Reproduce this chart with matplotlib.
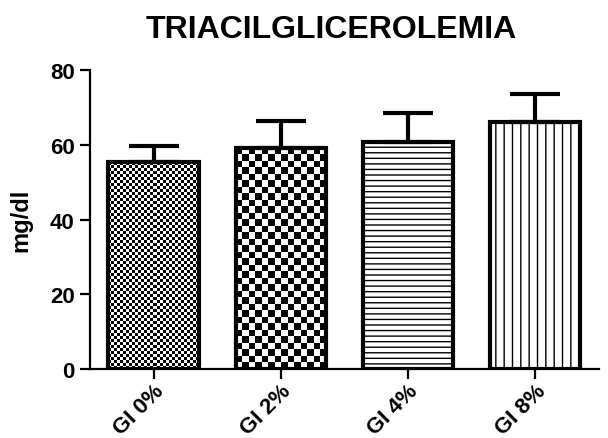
import matplotlib
matplotlib.use('Agg')
import matplotlib.pyplot as plt
import numpy as np

plt.rcParams['font.family'] = ['Liberation Sans', 'DejaVu Sans']
plt.rcParams['font.weight'] = 'bold'
plt.rcParams['hatch.linewidth'] = 1.0

groups = ['GI 0%', 'GI 2%', 'GI 4%', 'GI 8%']
means = [55.3, 59.1, 60.7, 66.1]
sd = [4.3, 7.2, 7.7, 7.4]
# fill style per bar: checker cell size in px, or a hatch string
fills = [('checker', 3), ('checker', 6.5), ('hatch', '---'), ('hatch', '||')]

fig = plt.figure(figsize=(6.08, 4.39), dpi=100)
ax = fig.add_axes([0.148, 0.157, 0.837, 0.681])

x = np.arange(len(groups))
width = 0.71
ax.set_xlim(-0.5, 3.5)
ax.set_ylim(0, 80)

bars = ax.bar(x, means, width=width, color='white', edgecolor='none', zorder=2)

for b, (kind, val) in zip(bars, fills):
    x0, y0 = b.get_x(), b.get_y()
    x1, y1 = x0 + b.get_width(), y0 + b.get_height()
    if kind == 'checker':
        p0 = ax.transData.transform((x0, y0))
        p1 = ax.transData.transform((x1, y1))
        nx = max(int(round((p1[0] - p0[0]) / val)), 1)
        ny = max(int(round((p1[1] - p0[1]) / val)), 1)
        grid = (np.add.outer(np.arange(ny), np.arange(nx)) % 2).astype(float)
        im = ax.imshow(grid, cmap='gray', vmin=0, vmax=1, interpolation='nearest',
                       extent=(x0, x1, y0, y1), aspect='auto', zorder=2.5)
        im.set_clip_path(b)
    else:
        b.set_hatch(val)
        b.set_edgecolor('black')
        b.set_linewidth(0)

# outlines on top of the fill
ax.bar(x, means, width=width, color='none', edgecolor='black', linewidth=3, zorder=3)

ax.errorbar(x, means, yerr=[np.zeros(len(sd)), sd], fmt='none', ecolor='black',
            elinewidth=3, capsize=18, capthick=3, zorder=2.8)

ax.set_aspect('auto')
ax.set_xlim(-0.5, 3.5)
ax.set_ylim(0, 80)

for s in ['top', 'right']:
    ax.spines[s].set_visible(False)
for s in ['left', 'bottom']:
    ax.spines[s].set_linewidth(1.6)

ax.set_yticks([0, 20, 40, 60, 80])
ax.set_xticks(x)
ax.set_xticklabels(groups, rotation=45, ha='right', va='center', rotation_mode='anchor')
ax.tick_params(axis='both', length=7, width=1.6)
ax.tick_params(axis='y', labelsize=16, pad=4)
ax.tick_params(axis='x', labelsize=16, pad=6)
for lab in ax.get_xticklabels():
    lab.set_fontweight('bold')
    lab.set_transform(lab.get_transform() + matplotlib.transforms.ScaledTranslation(
        7 / 100, 0, fig.dpi_scale_trans))
for lab in ax.get_yticklabels():
    lab.set_fontweight('bold')

ax.set_ylabel('mg/dl', fontsize=17, fontweight='bold', labelpad=13)
fig.suptitle('TRIACILGLICEROLEMIA', fontsize=23, fontweight='bold',
             y=1 - 30 / 439, va='center', x=0.545)

fig.savefig('out.png', dpi=100)
